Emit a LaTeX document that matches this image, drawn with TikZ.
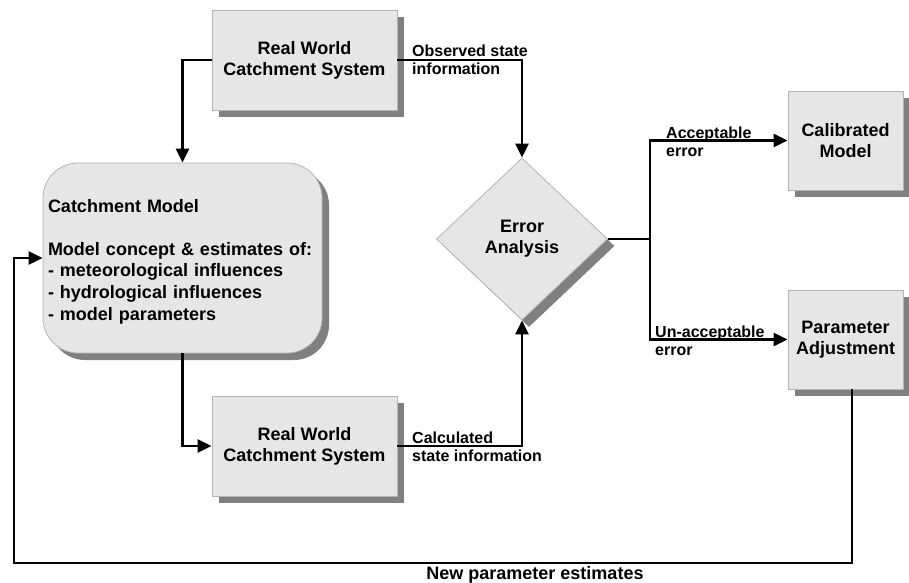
\documentclass[tikz,border=0pt]{standalone}
\usepackage{fontspec}
\setmainfont{Liberation Sans}
\usetikzlibrary{shapes.geometric,shadows,arrows.meta}
\definecolor{boxfill}{HTML}{E6E6E6}
\definecolor{boxline}{HTML}{B4B4B4}
\definecolor{shadowgray}{HTML}{808080}
\tikzset{
  boxstyle/.style={draw=boxline, line width=0.8pt, fill=boxfill,
    drop shadow={shadow xshift=7pt,shadow yshift=-7pt,fill=shadowgray,opacity=1},
    font=\fontsize{18}{21}\selectfont\bfseries, align=center, inner sep=0pt},
  conn/.style={line width=2.6pt, -{Triangle[length=14pt,width=13pt]}},
  plainconn/.style={line width=2.6pt},
  lbl/.style={font=\fontsize{16}{18}\selectfont\bfseries, align=left, inner sep=0pt, anchor=north west}
}
\begin{document}
\begin{tikzpicture}[x=1pt,y=-1pt]
\useasboundingbox (0,0) rectangle (909,582);
% nodes
\node[boxstyle, minimum width=185pt, minimum height=100pt] (rw1) at (304.5,60) {Real World\\Catchment System};
\node[boxstyle, minimum width=185pt, minimum height=100pt] (rw2) at (304.5,446) {Real World\\Catchment System};
\node[boxstyle, rounded corners=35pt, minimum width=279pt, minimum height=190pt,
      text width=269pt, align=left, inner xsep=5pt,
      font=\fontsize{18}{21.6}\selectfont\bfseries] (cm) at (182.5,258)
  {\rule{0pt}{20pt}Catchment Model\\[21.6pt]Model concept \& estimates of:\\- meteorological influences\\- hydrological influences\\- model parameters};
\node[boxstyle, diamond, aspect=1.05, minimum width=171pt, minimum height=162pt] (ea) at (522,239) {Error\\Analysis};
\node[boxstyle, minimum width=115pt, minimum height=99pt] (cal) at (845.5,140.5) {Calibrated\\Model};
\node[boxstyle, minimum width=115pt, minimum height=99pt] (pa) at (845.5,339.5) {Parameter\\Adjustment};
% coordinates
\coordinate (split) at (650,239);
\coordinate (loopL) at (14,563);
% connectors
\draw[conn] (rw1.west) -| (cm.north);
\draw[conn] (rw1.east) -| (ea.north);
\draw[conn] (cm.south) |- (rw2.west);
\draw[conn] (rw2.east) -| (ea.south);
\draw[plainconn] (ea.east) -- (split);
\draw[conn] (split) |- (cal.west);
\draw[conn] (split) |- (pa.west);
\draw[conn] ([xshift=6.5pt]pa.south) |- (loopL) |- (cm.west);
% labels
\node[lbl] (lobs) at (412,45) {Observed state\\information};
\node[lbl] (lcalc) at (412,432) {Calculated\\state information};
\node[lbl] (lacc) at (666,127) {Acceptable\\error};
\node[lbl] (lunacc) at (655,326) {Un-acceptable\\error};
\node[font=\fontsize{18}{21}\selectfont\bfseries, inner sep=0pt] (lnew) at (535,575) {New parameter estimates};
\end{tikzpicture}
\end{document}
